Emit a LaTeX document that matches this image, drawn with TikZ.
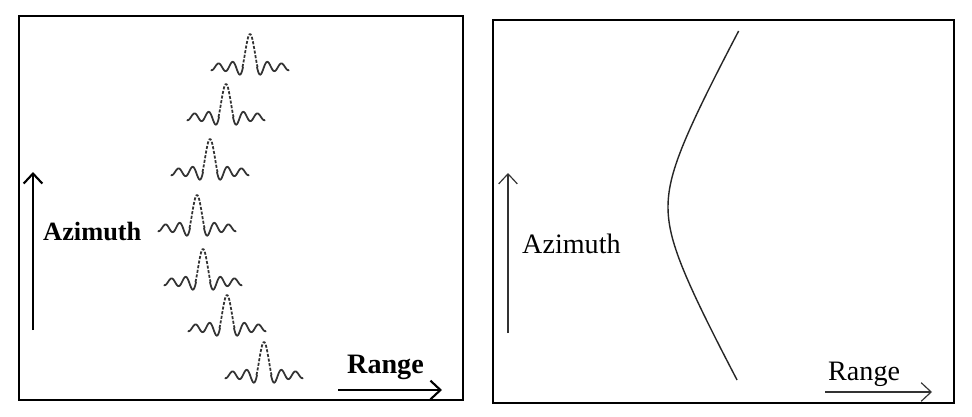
\documentclass[tikz,border=0pt]{standalone}
\usepackage{fontspec}
\setmainfont{Liberation Serif}
\usetikzlibrary{arrows.meta}
\begin{document}
\begin{tikzpicture}[x=0.03cm,y=-0.03cm,
  axisarrow/.style={-{Straight Barb[length=0.3cm,width=0.56cm]}},
  pulsetail/.style={black!80,line width=1.5pt},
  pulselobe/.style={black!80,line width=1.5pt,dash pattern=on 2.6pt off 1.4pt},
  label/.style={anchor=base west,inner sep=0pt,font=\fontsize{24}{28}\selectfont}]
\useasboundingbox (0,0) rectangle (972,417);
\fill[white] (0,0) rectangle (972,417);
% left panel: compressed pulses along the migration curve
\draw[line width=2.3pt] (19,16) rectangle (463,400);
\foreach \px/\py in {250/67,226/117,210/172,197/228,203/282,227/328,264/375}{
  \begin{scope}[shift={(\px,\py)}]
  \draw[pulsetail] plot[domain=-5.6:-1,samples=70,smooth] ({7*\x},{-33*(1-0.15*(\x+1))*sin(180*\x)/(3.1416*\x)});
  \draw[pulselobe] plot[domain=-1:1,samples=20,smooth] ({7.5*\x},{-33*sin(180*\x)/(3.1416*\x)});
  \draw[pulsetail] plot[domain=1:5.6,samples=70,smooth] ({7*\x},{-33*(1+0.15*(\x-1))*sin(180*\x)/(3.1416*\x)});
  \end{scope}
}
\coordinate (azLfrom) at (33,330); \coordinate (azLto) at (33,172);
\draw[axisarrow,line width=1.8pt] (azLfrom) -- (azLto);
\node[label,font=\fontsize{22.5}{27}\selectfont\bfseries] (azL) at (43,240) {Azimuth};
\coordinate (rgLfrom) at (338,390); \coordinate (rgLto) at (442,390);
\draw[axisarrow,line width=1.8pt] (rgLfrom) -- (rgLto);
\node[label,font=\fontsize{24}{28}\selectfont\bfseries] (rgL) at (347,373) {Range};
% right panel: the range history curve
\draw[line width=1.6pt] (493,20) rectangle (954,403);
\draw[line width=1.2pt,black!85] plot[domain=31:380,samples=90,smooth] ({637+sqrt(961+0.3025*(\x-207)*(\x-207))},\x);
\coordinate (azRfrom) at (508,333); \coordinate (azRto) at (508,173);
\draw[axisarrow,line width=1pt,black!80] (azRfrom) -- (azRto);
\node[label] (azR) at (522,253) {Azimuth};
\coordinate (rgRfrom) at (825,392); \coordinate (rgRto) at (932,392);
\draw[axisarrow,line width=1pt,black!80] (rgRfrom) -- (rgRto);
\node[label] (rgR) at (828,380) {Range};
\end{tikzpicture}
\end{document}
